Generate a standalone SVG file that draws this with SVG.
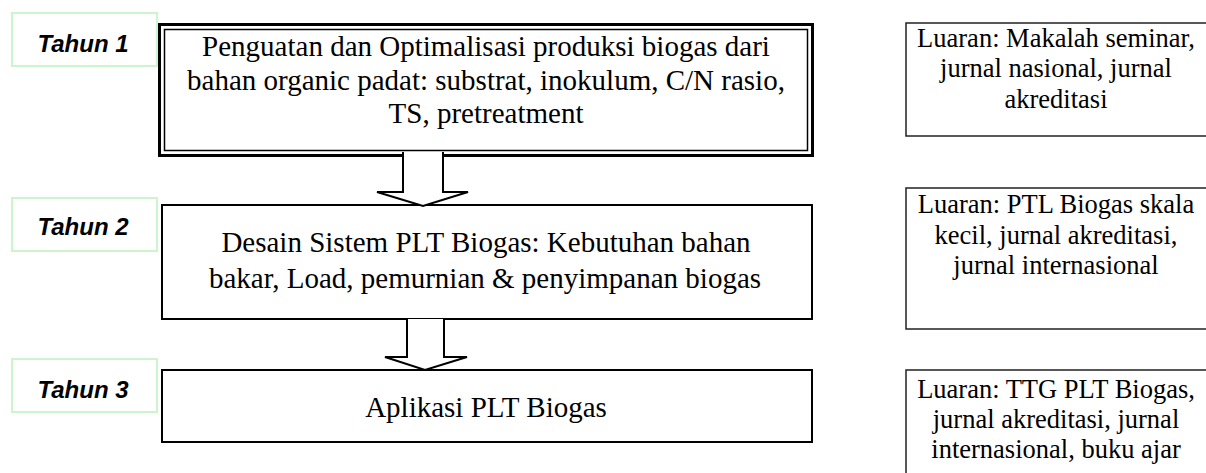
<svg xmlns="http://www.w3.org/2000/svg" width="1206" height="473" viewBox="0 0 1206 473">
<style>
.tag{fill:#fff;stroke:#cdf5cd;stroke-width:2}
.tagt{font-family:"Liberation Sans",Arial,sans-serif;font-weight:bold;font-style:italic;font-size:24px;fill:#000;text-anchor:middle}
.box{fill:#fff;stroke:#000;stroke-width:2}
.out{fill:#fff;stroke:#222;stroke-width:1.5}
.t{font-family:"Liberation Serif","Times New Roman",serif;font-size:29px;fill:#000;text-anchor:middle}
.o{font-family:"Liberation Serif","Times New Roman",serif;font-size:26.5px;fill:#000;text-anchor:middle}
.arr{fill:#fff;stroke:#000;stroke-width:2;stroke-linejoin:miter}
</style>
<rect width="1206" height="473" fill="#fff"/>
<g id="tahun1"><rect class="tag" x="12" y="13" width="145" height="53"/><text class="tagt" x="83" y="52">Tahun 1</text></g>
<g id="tahun2"><rect class="tag" x="12" y="198" width="145" height="53"/><text class="tagt" x="83" y="235">Tahun 2</text></g>
<g id="tahun3"><rect class="tag" x="12" y="359" width="145" height="53"/><text class="tagt" x="83" y="398">Tahun 3</text></g>
<g id="step1">
<rect x="159.5" y="24.5" width="653" height="131" fill="#fff" stroke="#000" stroke-width="3"/>
<rect x="164.5" y="29.5" width="643" height="121" fill="none" stroke="#000" stroke-width="1.5"/>
<text class="t" x="486" y="56">Penguatan dan Optimalisasi produksi biogas dari</text>
<text class="t" x="486" y="90">bahan organic padat: substrat, inokulum, C/N rasio,</text>
<text class="t" x="486" y="123">TS, pretreatment</text>
</g>
<g id="step2">
<rect class="box" x="162" y="205" width="650" height="114"/>
<text class="t" x="486" y="252">Desain Sistem PLT Biogas: Kebutuhan bahan</text>
<text class="t" x="485" y="288">bakar, Load, pemurnian &amp; penyimpanan biogas</text>
</g>
<g id="step3">
<rect class="box" x="162" y="370" width="650" height="72"/>
<text class="t" x="486" y="417">Aplikasi PLT Biogas</text>
</g>
<g id="out1">
<rect class="out" x="906" y="23" width="310" height="113"/>
<text class="o" x="1056" y="47">Luaran: Makalah seminar,</text>
<text class="o" x="1056" y="77">jurnal nasional, jurnal</text>
<text class="o" x="1056" y="108">akreditasi</text>
</g>
<g id="out2">
<rect class="out" x="906" y="188" width="310" height="141"/>
<text class="o" x="1056" y="213">Luaran: PTL Biogas skala</text>
<text class="o" x="1056" y="244">kecil, jurnal akreditasi,</text>
<text class="o" x="1056" y="274">jurnal internasional</text>
</g>
<g id="out3">
<rect class="out" x="906" y="370" width="310" height="120"/>
<text class="o" x="1056" y="398">Luaran: TTG PLT Biogas,</text>
<text class="o" x="1056" y="428">jurnal akreditasi, jurnal</text>
<text class="o" x="1056" y="458">internasional, buku ajar</text>
</g>
<g id="connectors">
<path class="arr" d="M403,152 L403,192 L377,192 L423,206 L468,192 L443,192 L443,152"/>
<path class="arr" d="M407,319 L407,357 L385,357 L425,370 L467,357 L444,357 L444,319"/>
</g>
</svg>
